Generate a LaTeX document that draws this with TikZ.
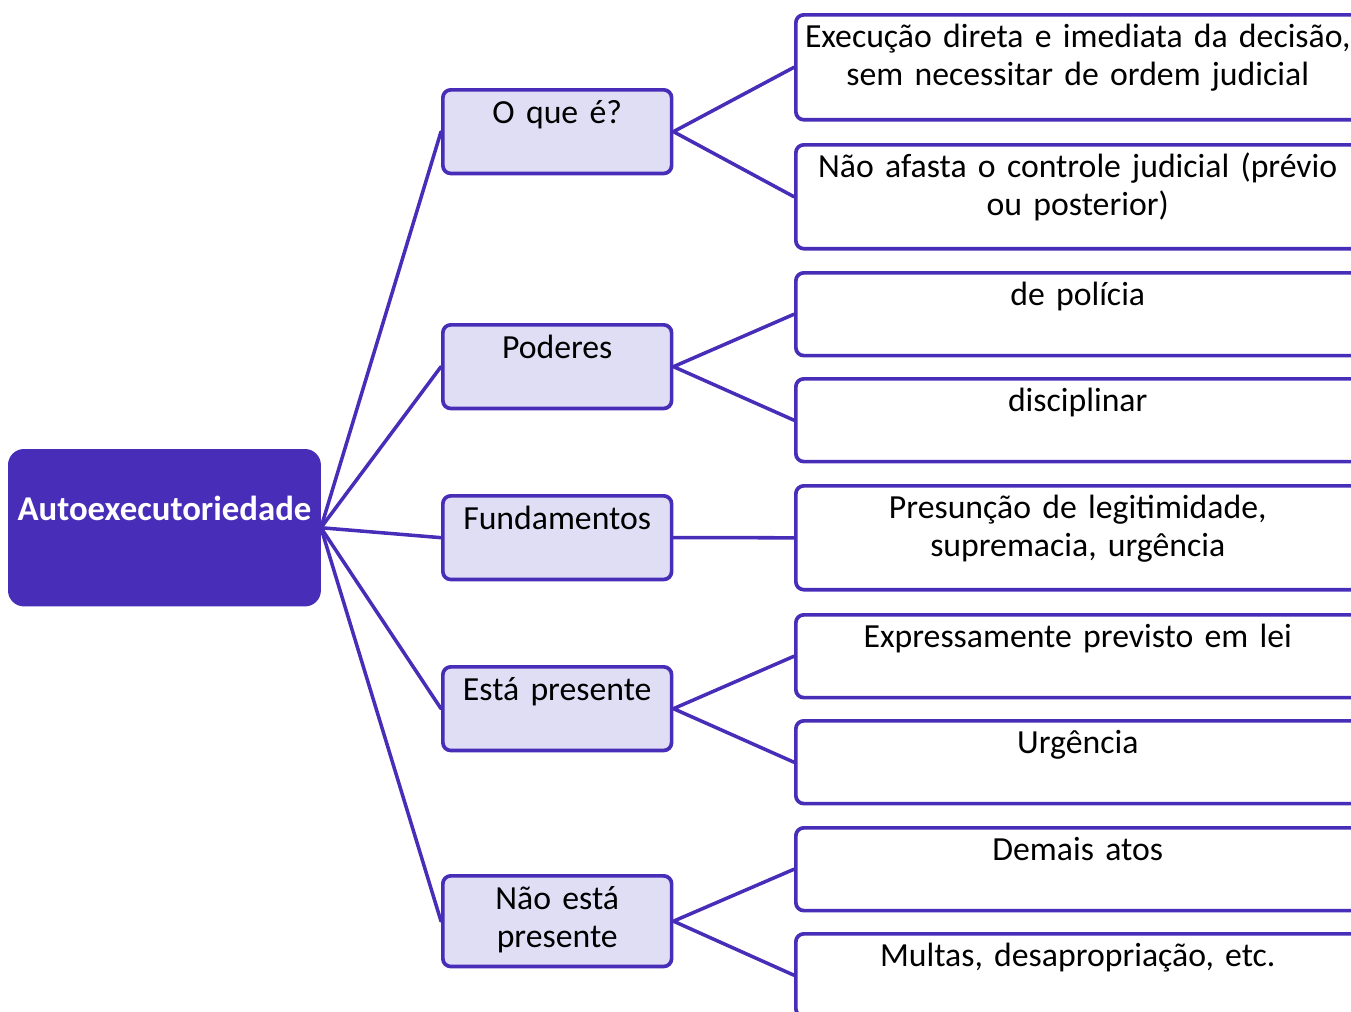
\documentclass[tikz,border=0pt]{standalone}
\usepackage{fontspec}
\setmainfont{Carlito}
\definecolor{mapborder}{RGB}{71,45,184}
\definecolor{mapfill}{RGB}{224,222,245}
\begin{document}
\begin{tikzpicture}[x=0.02cm, y=-0.02cm, line join=round, line cap=round,
	font=\fontsize{19.2}{21.6}\selectfont,
	rootbox/.style={draw=mapborder, fill=mapborder, line width=1.2pt, rounded corners=8.5pt, anchor=north west, inner sep=0pt, text=white, font=\fontsize{19.8}{21.6}\selectfont\bfseries, text width=176.9pt, align=center, text height=40.2pt, text depth=48.2pt},
	midbox/.style={draw=mapborder, fill=mapfill, line width=2.1pt, rounded corners=4.5pt, anchor=north west, inner sep=0pt, text width=130.2pt, align=center, text height=19.3pt, text depth=28.3pt},
	leafbox/.style={draw=mapborder, fill=white, line width=2.1pt, rounded corners=4.5pt, anchor=north west, inner sep=0pt, text width=320.9pt, align=center, text height=18.7pt, text depth=28.4pt},
	link/.style={draw=mapborder, line width=2pt}]
	\path[use as bounding box, clip] (0,0) rectangle (1351,1011);
	% root
	\node[rootbox] (root) at (8,449) {Autoexecutoriedade};
	% second level
	\node[midbox] (what) at (441,88) {O que é?};
	\node[midbox] (powers) at (441,323) {Poderes};
	\node[midbox] (grounds) at (441,494) {Fundamentos};
	\node[midbox] (present) at (441,665) {Está presente};
	\node[midbox, text depth=32.3pt] (absent) at (441,874) {Não está\\presente};
	% leaves
	\node[leafbox, text depth=41pt] (direct) at (794,13) {Execução direta e imediata da decisão,\\sem necessitar de ordem judicial};
	\node[leafbox, text depth=40.4pt] (control) at (794,143) {Não afasta o controle judicial (prévio\\ou posterior)};
	\node[leafbox] (police) at (794,271) {de polícia};
	\node[leafbox] (discip) at (794,377) {disciplinar};
	\node[leafbox, text depth=40.4pt] (presum) at (794,484) {Presunção de legitimidade,\\supremacia, urgência};
	\node[leafbox] (bylaw) at (794,613) {Expressamente previsto em lei};
	\node[leafbox] (urgent) at (794,719) {Urgência};
	\node[leafbox] (others) at (794,826) {Demais atos};
	\node[leafbox] (fines) at (794,932) {Multas, desapropriação, etc.};
	% connectors
	\foreach \m in {what,powers,grounds,present,absent}
		\draw[link] (root.east) -- (\m.west);
	\draw[link] (what.east) -- (direct.west) (what.east) -- (control.west);
	\draw[link] (powers.east) -- (police.west) (powers.east) -- (discip.west);
	\draw[link] (grounds.east) -- (presum.west);
	\draw[link] (present.east) -- (bylaw.west) (present.east) -- (urgent.west);
	\draw[link] (absent.east) -- (others.west) (absent.east) -- (fines.west);
\end{tikzpicture}
\end{document}
